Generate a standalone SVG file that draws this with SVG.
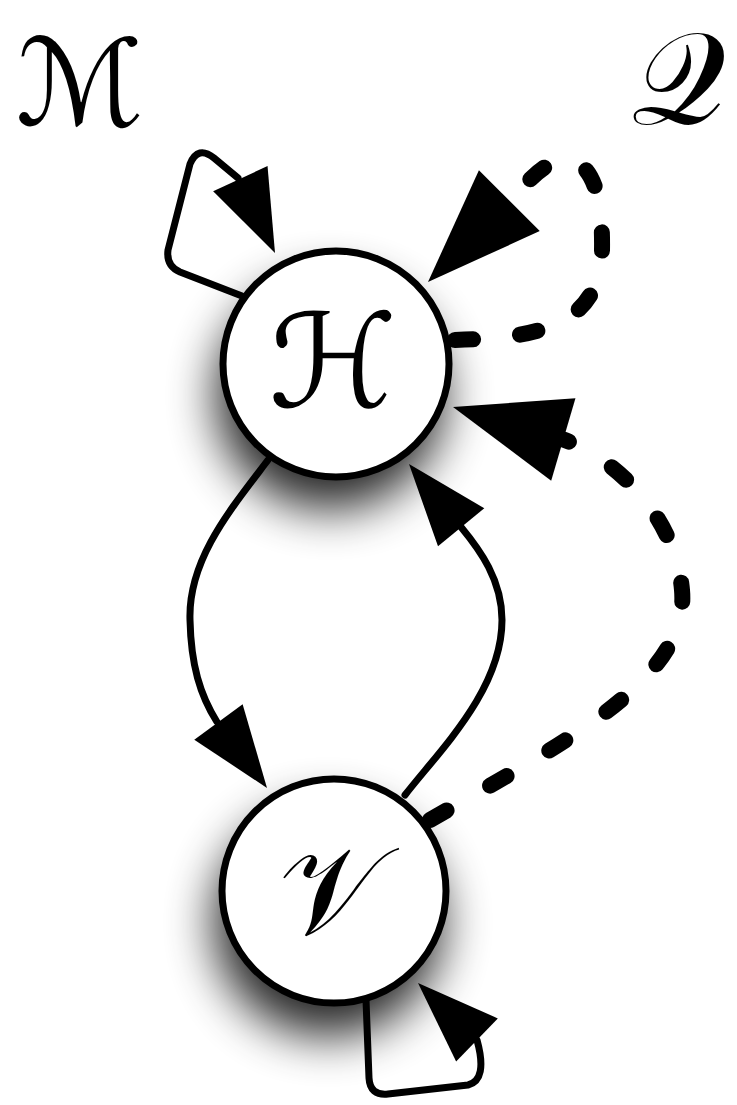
<svg xmlns="http://www.w3.org/2000/svg" xmlns:xlink="http://www.w3.org/1999/xlink" width="737" height="1105" viewBox="0 0 737 1105">
<style>
.edge{fill:none;stroke:#000;stroke-width:7;stroke-linejoin:round;stroke-linecap:round}
.dash{fill:none;stroke:#000;stroke-width:16;stroke-linecap:round}
.head{fill:#000}
.node{fill:#fff;stroke:#000;stroke-width:7}
.lbl{font-family:"DejaVu Serif","DejaVu Sans",serif;fill:#000;text-anchor:middle}
</style>
<defs>
<polygon id="headS" points="0,0 -82,-30 -82,30"/>
<polygon id="headL" points="0,0 -115,-43 -115,43"/>
<filter id="shadow" x="-50%" y="-50%" width="200%" height="200%"><feGaussianBlur stdDeviation="24"/></filter>
</defs>
<rect width="737" height="1105" fill="#fff"/>
<text id="labelM" class="lbl" x="80" y="125" font-size="120">ℳ</text>
<text id="labelQ" class="lbl" x="678" y="124" font-size="132">𝒬</text>
<g id="connectors">
<path class="edge" d="M242,296 L180,272 Q166,266 168,250 L190,164 Q198,145 214,158 L238,178"/>
<use href="#headS" class="head" transform="translate(275,253) rotate(65)"/>
<path class="edge" d="M268,460 C230,510 188,560 190,620 C191,665 200,695 217,722"/>
<use href="#headS" class="head" transform="translate(267,788) rotate(53.7)"/>
<path class="edge" d="M405,795 C440,750 502,690 502,620 C502,580 480,550 461,527"/>
<use href="#headS" class="head" transform="translate(409,464) rotate(-129.5)"/>
<path class="edge" d="M366,1000 L369,1078 Q370,1096 388,1094 L468,1085 Q488,1080 477,1040"/>
<use href="#headS" class="head" transform="translate(418,983) rotate(-136)"/>
<path class="dash" stroke-dasharray="18 47" d="M455,340 C530,338 600,330 602,250 C603,190 590,160 565,160 C545,160 525,185 510,200"/>
<use href="#headL" class="head" transform="translate(428,282) rotate(135)"/>
<path class="dash" stroke-dasharray="19 50" d="M430,820 C560,745 690,680 682,590 C676,520 620,460 562,439"/>
<use href="#headL" class="head" transform="translate(453,407) rotate(-163.6)"/>
</g>
<g id="nodeH">
<circle cx="330" cy="395" r="114" fill="#000" opacity="0.85" filter="url(#shadow)"/>
<circle class="node" cx="336" cy="364" r="113"/>
<text class="lbl" x="333" y="407" font-size="130">ℋ</text>
</g>
<g id="nodeV">
<circle cx="328" cy="922" r="114" fill="#000" opacity="0.85" filter="url(#shadow)"/>
<circle class="node" cx="334" cy="891" r="112"/>
<text class="lbl" x="331" y="934" font-size="125">𝒱</text>
</g>
</svg>
